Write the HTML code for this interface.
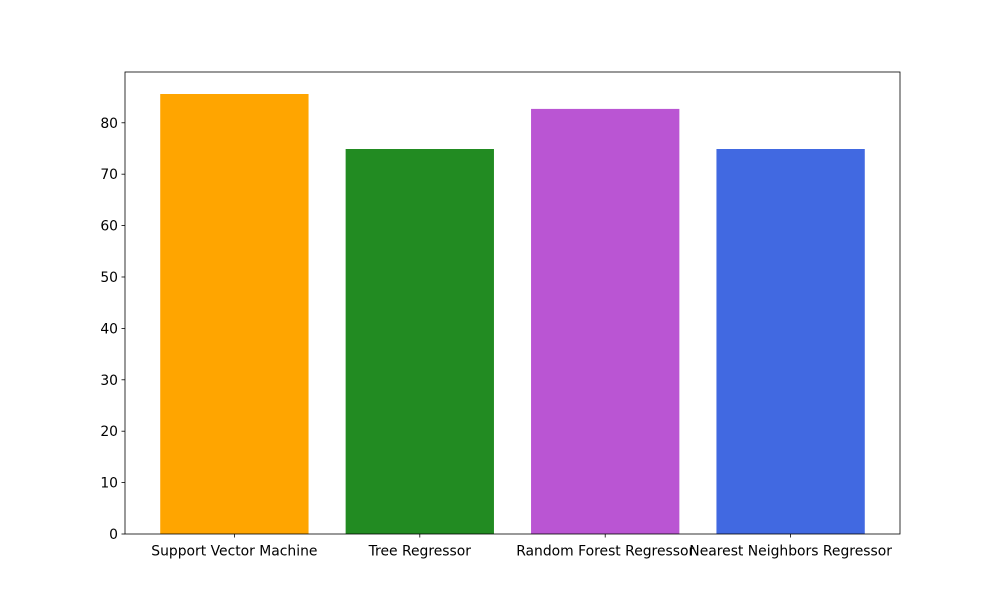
<!DOCTYPE html>
<html><head><meta charset="utf-8"><style>
body{margin:0;background:#fff;}
svg text{font-family:"DejaVu Sans","Liberation Sans",sans-serif;font-size:13.9px;fill:#000;}
</style></head><body>
<svg id="chart" width="1000" height="600" xmlns="http://www.w3.org/2000/svg">
<rect width="1000" height="600" fill="#fff"/>
<g id="bars"></g>
<g id="axes"></g>
</svg>
<script>
const categories = ["Support Vector Machine","Tree Regressor","Random Forest Regressor","Nearest Neighbors Regressor"];
const values = [85.6, 74.9, 82.7, 74.9];
const colors = ["#ffa500","#228b22","#ba55d3","#4169e1"];
const yTicks = [0,10,20,30,40,50,60,70,80];

const L=125,R=900,T=72,B=534;
const yMax = Math.max(...values)*1.05;
const xMin=-0.59, xMax=categories.length-1+0.59;
const xs = i => L + (i - xMin)/(xMax - xMin)*(R-L);
const ys = v => B - v/yMax*(B-T);
const NS="http://www.w3.org/2000/svg";
const bars=document.getElementById('bars'), axes=document.getElementById('axes');
function mk(tag,attrs,parent){const e=document.createElementNS(NS,tag);for(const k in attrs)e.setAttribute(k,attrs[k]);parent.appendChild(e);return e;}
const bw = 0.8/(xMax-xMin)*(R-L);
values.forEach((v,i)=>{
  const r=mk('rect',{x:xs(i)-bw/2,y:ys(v),width:bw,height:B-ys(v),fill:colors[i]},bars);
  
  
  mk('line',{x1:xs(i),x2:xs(i),y1:B,y2:B+3.5,stroke:'#000','stroke-width':0.8},axes);
  const lb=mk('text',{x:xs(i),y:B+21.5,'text-anchor':'middle'},axes);
  lb.textContent=categories[i];
  
  
});
yTicks.forEach(v=>{
  mk('line',{x1:L-3.5,x2:L,y1:ys(v),y2:ys(v),stroke:'#000','stroke-width':0.8},axes);
  const lb=mk('text',{x:L-7,y:ys(v)+5,'text-anchor':'end'},axes);
  lb.textContent=v;
  
  
});
const frame=mk('rect',{x:L,y:T,width:R-L,height:B-T,fill:'none',stroke:'#000','stroke-width':0.8},axes);


</script>
</body></html>
